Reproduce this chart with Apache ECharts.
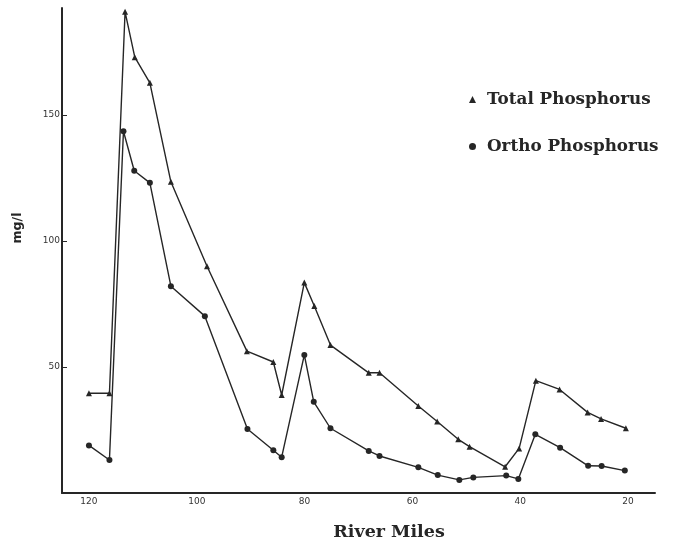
<!DOCTYPE html>
<html>
<head>
<meta charset="utf-8">
<script src="https://cdn.jsdelivr.net/npm/echarts@6/dist/echarts.min.js"></script>
<style>
html,body{margin:0;padding:0;background:#fff;}
#c{width:674px;height:542px;}
</style>
</head>
<body>
<div id="c"></div>
<script>
// River miles and concentrations (mg/l)
const totalMiles = [120, 116.2, 113.3, 111.5, 108.7, 104.8, 98.1, 90.7, 85.8, 84.25, 80.05, 78.2, 75.2, 68.1, 66.1, 58.9, 55.4, 51.5, 49.4, 42.8, 40.2, 37.1, 32.7, 27.5, 25.0, 20.4];
const totalP =     [39.6, 39.6, 191, 173, 162.8, 123.5, 90, 56.3, 52, 38.9, 83.5, 74.2, 58.7, 47.7, 47.7, 34.5, 28.4, 21.3, 18.4, 10.4, 17.7, 44.6, 41.1, 32, 29.4, 25.7];
const orthoMiles = [120, 116.2, 113.6, 111.6, 108.7, 104.8, 98.5, 90.6, 85.8, 84.25, 80.05, 78.3, 75.2, 68.1, 66.1, 58.9, 55.3, 51.3, 48.7, 42.6, 40.35, 37.2, 32.6, 27.4, 24.9, 20.6];
const orthoP =     [18.9, 13.1, 143.6, 127.9, 123.1, 82.1, 70.2, 25.4, 17, 14.2, 54.8, 36.2, 25.7, 16.7, 14.7, 10.2, 7.1, 5.2, 6.2, 6.9, 5.6, 23.3, 18, 10.8, 10.7, 8.9];
const xTicks = [120, 100, 80, 60, 40, 20];
const yTicks = [50, 100, 150];
const seriesNames = ['Total Phosphorus', 'Ortho Phosphorus'];
const xTitle = 'River Miles';
const yTitle = 'mg/l';

const zip = (a, b) => a.map((v, i) => [v, b[i]]);
const ink = '#262626';

const chart = echarts.init(document.getElementById('c'), null, {renderer: 'canvas'});
chart.setOption({
  backgroundColor: '#ffffff',
  animation: false,
  grid: {left: 62, right: 19, top: 8, bottom: 49, containLabel: false, outerBoundsMode: 'none'},
  legend: {
    orient: 'vertical',
    left: 464,
    top: 86,
    itemGap: 30,
    itemWidth: 7,
    itemHeight: 7,
    textStyle: {fontFamily: 'DejaVu Serif', fontWeight: 'bold', fontSize: 16.8, color: ink, padding: [0, 0, 0, 6]},
    data: [
      {name: seriesNames[0], icon: 'triangle'},
      {name: seriesNames[1], icon: 'circle'}
    ]
  },
  graphic: [
    {
      type: 'text',
      x: 18, y: 228,
      rotation: Math.PI / 2,
      style: {text: yTitle, fontFamily: 'DejaVu Sans', fontWeight: 'bold', fontSize: 12.5, fill: ink, align: 'center', verticalAlign: 'middle'}
    }
  ],
  xAxis: {
    type: 'value',
    inverse: true,
    min: 15,
    max: 125,
    name: xTitle,
    nameLocation: 'middle',
    nameGap: 30,
    nameTextStyle: {fontFamily: 'DejaVu Serif', fontWeight: 'bold', fontSize: 17.5, color: ink, padding: [0, 0, 0, 61]},
    axisLine: {show: true, lineStyle: {color: ink, width: 2}},
    axisTick: {show: false},
    splitLine: {show: false},
    axisLabel: {customValues: xTicks, fontFamily: 'DejaVu Sans', fontSize: 9, color: '#333', margin: 4}
  },
  yAxis: {
    type: 'value',
    min: 0,
    max: 192.5,
    axisLine: {show: true, lineStyle: {color: ink, width: 2}},
    axisTick: {show: true, inside: true, length: 5, customValues: yTicks, lineStyle: {color: ink, width: 1}},
    splitLine: {show: false},
    axisLabel: {customValues: yTicks, fontFamily: 'DejaVu Sans', fontSize: 9, color: '#333', margin: 2}
  },
  series: [
    {
      name: seriesNames[0],
      type: 'line',
      data: zip(totalMiles, totalP),
      symbol: 'triangle',
      symbolSize: 6,
      showSymbol: true,
      itemStyle: {color: ink},
      lineStyle: {color: ink, width: 1.4}
    },
    {
      name: seriesNames[1],
      type: 'line',
      data: zip(orthoMiles, orthoP),
      symbol: 'circle',
      symbolSize: 6,
      showSymbol: true,
      itemStyle: {color: ink},
      lineStyle: {color: ink, width: 1.4}
    }
  ]
});
</script>
</body>
</html>
